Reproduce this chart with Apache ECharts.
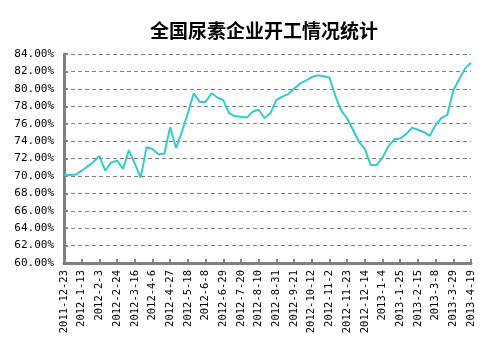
<!DOCTYPE html>
<html>
<head>
<meta charset="utf-8">
<script src="https://cdn.jsdelivr.net/npm/echarts@6/dist/echarts.min.js"></script>
<style>
  html, body { margin: 0; padding: 0; background: #fff; }
  #chart { width: 503px; height: 351px; }
</style>
</head>
<body>
<div id="chart"></div>
<script>
const weeks = [
  '2011-12-23', '2011-12-30', '2012-1-6', '2012-1-13', '2012-1-20', '2012-1-27',
  '2012-2-3', '2012-2-10', '2012-2-17', '2012-2-24', '2012-3-2', '2012-3-9',
  '2012-3-16', '2012-3-23', '2012-3-30', '2012-4-6', '2012-4-13', '2012-4-20',
  '2012-4-27', '2012-5-4', '2012-5-11', '2012-5-18', '2012-5-25', '2012-6-1',
  '2012-6-8', '2012-6-15', '2012-6-22', '2012-6-29', '2012-7-6', '2012-7-13',
  '2012-7-20', '2012-7-27', '2012-8-3', '2012-8-10', '2012-8-17', '2012-8-24',
  '2012-8-31', '2012-9-7', '2012-9-14', '2012-9-21', '2012-9-28', '2012-10-5',
  '2012-10-12', '2012-10-19', '2012-10-26', '2012-11-2', '2012-11-9', '2012-11-16',
  '2012-11-23', '2012-11-30', '2012-12-7', '2012-12-14', '2012-12-21', '2012-12-28',
  '2013-1-4', '2013-1-11', '2013-1-18', '2013-1-25', '2013-2-1', '2013-2-8',
  '2013-2-15', '2013-2-22', '2013-3-1', '2013-3-8', '2013-3-15', '2013-3-22',
  '2013-3-29', '2013-4-5', '2013-4-12', '2013-4-19'
];

// 开工率 (%)
const operatingRate = [
  70.1, 70.1, 70.15, 70.6, 71.1, 71.6, 72.3, 70.6, 71.55, 71.75,
  70.8, 72.95, 71.4, 69.8, 73.3, 73.1, 72.5, 72.55, 75.6, 73.2,
  75.1, 77.2, 79.5, 78.5, 78.5, 79.5, 79.0, 78.7, 77.2, 76.85,
  76.8, 76.7, 77.4, 77.6, 76.65, 77.2, 78.7, 79.1, 79.4, 80.0,
  80.6, 80.95, 81.35, 81.55, 81.45, 81.3, 79.2, 77.5, 76.6, 75.3,
  73.9, 73.1, 71.25, 71.25, 72.1, 73.4, 74.2, 74.3, 74.8, 75.55,
  75.3, 75.05, 74.6, 75.85, 76.65, 77.05, 79.8, 81.1, 82.35, 83.0
];

const yMin = 60;
const yMax = 84;
const yStep = 2;

const chart = echarts.init(document.getElementById('chart'), null, { renderer: 'canvas' });

chart.setOption({
  animation: false,
  backgroundColor: '#fff',
  title: {
    text: '全国尿素企业开工情况统计',
    left: 259,
    top: 16,
    textAlign: 'center',
    textStyle: {
      fontFamily: 'Noto Sans CJK SC',
      fontSize: 19,
      fontWeight: 'bold',
      color: '#000'
    }
  },
  grid: { left: 64, right: 32, top: 54, bottom: 88 },
  xAxis: {
    type: 'category',
    data: weeks,
    boundaryGap: false,
    axisLine: { lineStyle: { color: '#808080', width: 3 } },
    axisTick: { inside: true, length: 4, interval: 2, lineStyle: { color: '#808080', width: 2 } },
    axisLabel: {
      interval: 2,
      rotate: 90,
      margin: 7,
      color: '#000',
      fontFamily: 'DejaVu Sans Mono',
      fontSize: 10.5
    },
    splitLine: { show: false }
  },
  yAxis: {
    type: 'value',
    min: yMin,
    max: yMax,
    interval: yStep,
    axisLine: { show: true, lineStyle: { color: '#808080', width: 3 } },
    axisTick: { show: true, inside: true, length: 4, lineStyle: { color: '#808080', width: 2 } },
    axisLabel: {
      margin: 10,
      color: '#000',
      fontFamily: 'DejaVu Sans Mono',
      fontSize: 11,
      formatter: v => v.toFixed(2) + '%'
    },
    splitLine: { lineStyle: { color: '#808080', type: [4, 3], width: 1 } }
  },
  series: [{
    type: 'line',
    data: operatingRate,
    showSymbol: false,
    lineStyle: { color: '#33CCCC', width: 2 },
    itemStyle: { color: '#33CCCC' }
  }]
});
</script>
</body>
</html>
